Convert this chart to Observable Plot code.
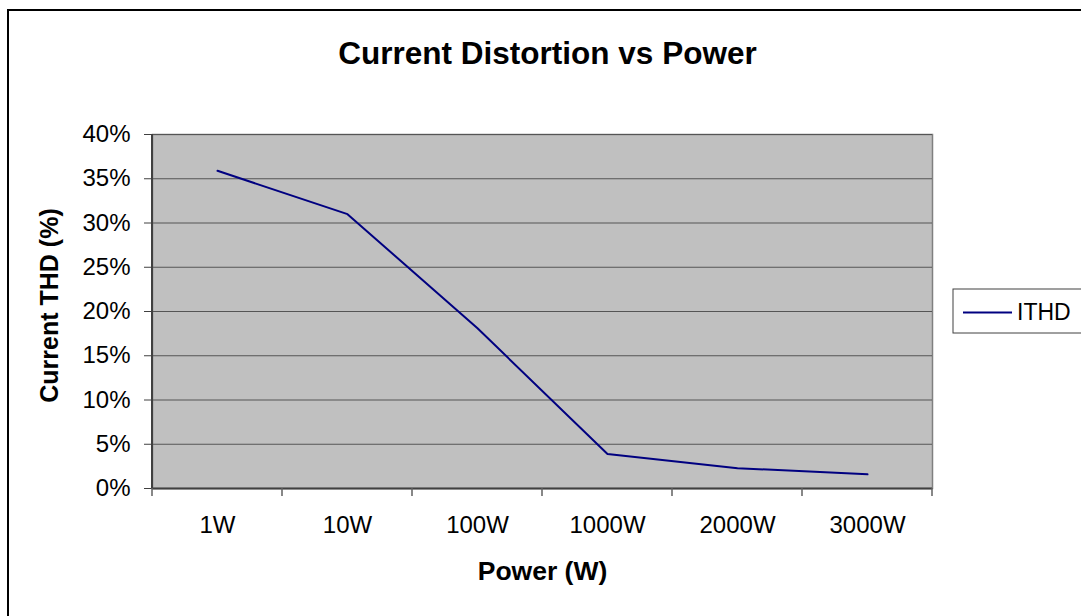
<!DOCTYPE html>
<html><head><meta charset="utf-8">
<script src="https://cdn.jsdelivr.net/npm/d3@7"></script>
<script src="https://cdn.jsdelivr.net/npm/@observablehq/plot@0.6"></script>
<style>
html,body{margin:0;padding:0;background:#fff;overflow:hidden;}
svg{display:block;}
</style></head><body><div id="chart"></div>
<script>
const categories = ["1W","10W","100W","1000W","2000W","3000W"];
const ithd = [0.359,0.31,0.181,0.039,0.023,0.016];
const yTicks = [0,0.05,0.10,0.15,0.20,0.25,0.30,0.35,0.40];
const seriesName = "ITHD";
const title = "Current Distortion vs Power";
const xLabel = "Power (W)";
const yLabel = "Current THD (%)";

const data = categories.map((c,i)=>({power:c, thd: ithd[i]}));
const font = "'Liberation Sans', Arial, sans-serif";

const chart = Plot.plot({
  width:1081, height:616,
  marginTop:134, marginBottom:128, marginLeft:152, marginRight:149,
  style:{fontFamily:font, background:"#fff", color:"#000"},
  x:{type:"band", domain:categories, padding:0},
  y:{domain:[0,0.4]},
  marks:[
    Plot.frame({fill:"#c0c0c0", stroke:"#808080", strokeWidth:1.5}),
    Plot.gridY(yTicks, {stroke:"#555", strokeOpacity:1, strokeWidth:1}),
    Plot.ruleY([0], {stroke:"#404040", strokeWidth:2}),
    Plot.axisY(yTicks, {tickFormat: d3.format(".0%"), tickSize:8, tickPadding:14, fontSize:24, label:null, stroke:"#404040"}),
    Plot.axisX({tickSize:0, tickPadding:27, fontSize:24, label:null}),
    Plot.line(data, {x:"power", y:"thd", stroke:"#000080", strokeWidth:2}),
    Plot.text([title], {text:d=>d, frameAnchor:"top", textAnchor:"middle", lineAnchor:"middle", dy:-81, dx:5, fontSize:31.5, fontWeight:"bold"}),
    Plot.text([xLabel], {text:d=>d, frameAnchor:"bottom", textAnchor:"middle", lineAnchor:"middle", dy:83, fontSize:26.5, fontWeight:"bold"}),
    Plot.text([yLabel], {text:d=>d, frameAnchor:"left", textAnchor:"middle", lineAnchor:"middle", rotate:-90, dx:-103, dy:-6, fontSize:25, fontWeight:"bold"})
  ]
});
document.getElementById("chart").appendChild(chart);

const svg = d3.select(chart);
const xs = chart.scale("x");
const ys = chart.scale("y");
const y0 = ys.apply(0), yTop = ys.apply(0.4);
const x0 = xs.range[0];
const bw = xs.bandwidth;
// left axis line
svg.append("line").attr("x1", x0).attr("x2", x0).attr("y1", yTop).attr("y2", y0+1)
  .attr("stroke", "#404040").attr("stroke-width", 2);
// category boundary ticks
svg.append("g").selectAll("line").data(d3.range(categories.length+1)).join("line")
  .attr("x1", i => x0 + i*bw).attr("x2", i => x0 + i*bw)
  .attr("y1", y0).attr("y2", y0+8)
  .attr("stroke", "#606060").attr("stroke-width", 1.5);
// legend
const lg = svg.append("g");
lg.append("rect").attr("x", 953).attr("y", 289).attr("width", 200).attr("height", 44)
  .attr("fill", "#fff").attr("stroke", "#404040").attr("stroke-width", 1);
lg.append("line").attr("x1", 963).attr("x2", 1012).attr("y1", 312.5).attr("y2", 312.5)
  .attr("stroke", "#000080").attr("stroke-width", 2);
lg.append("text").attr("x", 1017).attr("y", 312).attr("dy", "0.35em")
  .attr("text-anchor", "start")
  .attr("font-size", 23).attr("font-family", font).attr("fill", "#000").text(seriesName);
// outer border
svg.append("rect").attr("x", 8).attr("y", 10).attr("width", 1200).attr("height", 800)
  .attr("fill", "none").attr("stroke", "#000").attr("stroke-width", 2);
</script></body></html>
